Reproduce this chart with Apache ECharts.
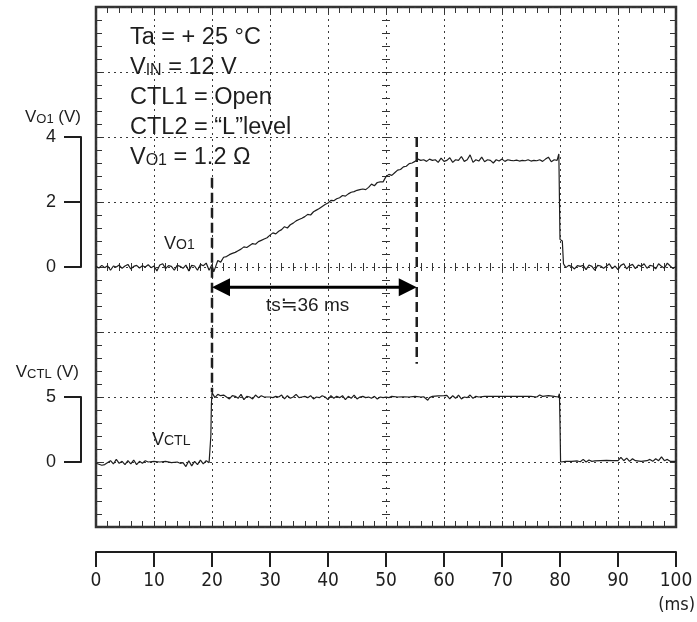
<!DOCTYPE html>
<html>
<head>
<meta charset="utf-8">
<script src="https://cdn.jsdelivr.net/npm/echarts@6/dist/echarts.min.js"></script>
<style>
html,body{margin:0;padding:0;background:#fff;}
#c{width:697px;height:622px;}
</style>
</head>
<body>
<div id="c"></div>
<script>
// ---- data (time in ms, voltages in V) ----
const timeTicks = [0, 10, 20, 30, 40, 50, 60, 70, 80, 90, 100];
const vo1BracketTicks = [0, 2, 4];
const vctlBracketTicks = [0, 5];

const vo1Trace = [
[0,0.02],[0.5,-0.03],[1,0.05],[1.5,-0.02],[2,0.04],[2.5,-0.1],[3,0.03],[3.5,0],[4,0.06],[4.5,-0.04],
[5,0.03],[5.5,0.08],[6,-0.06],[6.5,0.02],[7,0.05],[7.5,-0.03],[8,0.04],[8.5,0],[9,0.07],[9.5,-0.02],
[10,0.03],[10.5,-0.12],[11,0.06],[11.5,0.1],[12,-0.05],[12.5,0.04],[13,0.02],[13.5,-0.1],[14,0.05],[14.5,0.02],
[15,-0.04],[15.5,0.06],[16,-0.12],[16.5,0.05],[17,0.03],[17.5,-0.1],[18,0.08],[18.5,0.04],[19,0.12],[19.5,-0.1],
[20,0.08],[20.3,-0.15],[20.7,0.05],[21,0.2],[21.5,0.15],[22,0.3],[22.5,0.32],[23,0.38],[23.5,0.42],[24,0.45],
[24.5,0.5],[25,0.55],[25.5,0.62],[26,0.6],[26.5,0.66],[27,0.72],[27.5,0.7],[28,0.78],[28.5,0.82],[29,0.86],
[29.5,0.9],[30,0.98],[30.5,1.05],[31,1.02],[31.5,1.1],[32,1.15],[32.5,1.24],[33,1.2],[33.5,1.3],[34,1.35],
[34.5,1.42],[35,1.46],[35.5,1.5],[36,1.55],[36.5,1.62],[37,1.6],[37.5,1.7],[38,1.75],[38.5,1.8],[39,1.86],
[39.5,1.92],[40,1.97],[40.5,2.05],[41,2.04],[41.5,2.1],[42,2.13],[42.5,2.2],[43,2.18],[43.5,2.25],[44,2.3],
[44.5,2.32],[45,2.36],[45.5,2.38],[46,2.4],[46.5,2.38],[47,2.45],[47.5,2.55],[48,2.5],[48.5,2.6],[49,2.62],
[49.5,2.62],[50,2.78],[50.5,2.85],[51,2.82],[51.5,2.9],[52,2.98],[52.5,3.0],[53,3.08],[53.5,3.1],[54,3.18],
[54.5,3.2],[55,3.25],[55.5,3.32],[56,3.28],[56.5,3.3],[57,3.25],[57.5,3.32],[58,3.28],[58.5,3.3],[59,3.22],
[59.5,3.35],[60,3.25],[60.5,3.28],[61,3.36],[61.5,3.22],[62,3.3],[62.5,3.28],[63,3.4],[63.5,3.25],[64,3.3],
[64.5,3.45],[65,3.22],[65.5,3.3],[66,3.26],[66.5,3.38],[67,3.24],[67.5,3.3],[68,3.28],[68.5,3.2],[69,3.3],
[69.5,3.26],[70,3.32],[70.5,3.25],[71,3.3],[71.5,3.28],[72,3.27],[72.5,3.29],[73,3.26],[73.5,3.28],[74,3.27],
[74.5,3.3],[75,3.26],[75.5,3.28],[76,3.27],[76.5,3.3],[77,3.25],[77.5,3.32],[78,3.38],[78.5,3.24],[79,3.3],
[79.5,3.28],[79.8,3.48],[80,0.85],[80.4,0.8],[80.6,0.1],[81,-0.02],[81.5,0.05],[82,0.02],[82.5,-0.06],[83,0.04],
[83.5,0.02],[84,0.05],[84.5,-0.08],[85,0.06],[85.5,0.02],[86,-0.1],[86.5,0.05],[87,0.03],[87.5,-0.04],[88,0.02],
[88.5,0.1],[89,-0.05],[89.5,0.03],[90,-0.08],[90.5,0.05],[91,0.1],[91.5,-0.06],[92,0.04],[92.5,0.08],[93,-0.05],
[93.5,0.06],[94,0.02],[94.5,0.1],[95,-0.04],[95.5,0.05],[96,0.03],[96.5,-0.06],[97,0.1],[97.5,0.02],[98,-0.04],
[98.5,0.12],[99,0.03],[99.5,-0.05],[100,0.02]
];

const vctlTrace = [
[0,-0.1],[1,-0.25],[1.5,-0.2],[2.5,0.1],[3,-0.15],[3.5,0.2],[4,-0.1],[4.5,0.05],[5,-0.2],[5.5,0.1],
[6,-0.15],[6.5,0.15],[7,-0.2],[7.5,0.05],[8,-0.1],[8.5,0.1],[9,0],[10,0.05],[11,0],[12,0.05],
[13,-0.05],[14,0],[14.5,-0.1],[15,-0.05],[15.5,-0.35],[16,0.1],[16.5,-0.3],[17,0.05],[17.5,-0.2],[18,0.15],
[18.5,-0.15],[19,0.1],[19.5,-0.05],[19.7,0.05],[19.8,2.0],[19.9,4.5],[20,5.35],[20.5,4.95],[21,5.2],[21.5,5.1],
[22,5.15],[22.5,5.0],[23,4.85],[23.5,5.1],[24,5.05],[24.5,4.9],[25,5.2],[25.5,4.8],[26,5.05],[26.5,5.0],
[27,4.85],[27.5,5.15],[28,4.95],[28.5,5.1],[29,5.0],[30,5.0],[30.5,4.95],[31,5.05],[31.5,5.0],[32,5.15],
[32.5,4.85],[33,5.1],[33.5,4.9],[34,5.0],[34.5,5.2],[35,4.95],[35.5,5.0],[36,5.05],[36.5,4.95],[37,5.1],
[37.5,4.85],[38,5.0],[38.5,4.95],[39,5.1],[39.5,5.0],[40,4.8],[40.5,5.1],[41,4.9],[41.5,5.05],[42,4.95],
[42.5,5.1],[43,4.8],[43.5,5.05],[44,4.9],[44.5,5.15],[45,4.85],[45.5,5.0],[46,5.05],[46.5,4.95],[47,5.0],
[47.5,4.9],[48,5.05],[48.5,4.85],[49,5.0],[49.5,4.95],[50,5.0],[50.5,4.95],[51,5.05],[52,5.0],[53,5.02],
[54,5.0],[55,5.05],[56,5.0],[56.5,5.02],[57.2,4.75],[57.5,4.95],[58,5.05],[59,5.08],[60,5.1],[60.5,5.12],
[61,4.85],[61.5,5.1],[62,4.9],[62.5,5.15],[63,4.85],[63.5,5.0],[64,4.95],[64.5,5.15],[65,4.9],[65.5,5.05],
[66,5.0],[67,5.05],[68,5.05],[69,5.05],[70,5.05],[71,5.05],[72,5.05],[73,5.05],[74,5.05],[75,5.05],
[76,5.0],[76.5,5.15],[77,5.05],[78,5.1],[79,5.05],[79.7,5.0],[79.9,5.25],[80,3.0],[80.05,2.9],[80.1,0.0],
[81,0.05],[82,0.05],[83,0.08],[83.5,0.02],[84,0.2],[84.5,0.0],[85,0.15],[85.5,0.05],[86,0.08],[87,0.1],
[88,0.12],[89,0.1],[90,0.1],[90.5,0.35],[91,0.1],[91.5,0.3],[92,0.05],[92.5,0.25],[93,0.1],[94,0.05],
[95,0.1],[95.5,0.2],[96,0.05],[96.5,0.25],[97,0.1],[97.5,0.4],[98,0.1],[98.5,0.2],[99,0.05],[100,0.05]
];

// cursor (dashed) lines: time, top and bottom in Vo1 volts
const cursorTimes = [20, 55.3];
const cursorTopV = [2.75, 4.0];
const cursorBottomV = [-3.85, -2.98];
// ts arrow: from, to (ms), level in Vo1 volts
const arrowSpan = [20, 55.3];
const arrowLevel = -0.62;

const conditionLines = [
  '{t|Ta = + 25 °C}',
  '{t|V}{ts|IN}{t| = 12 V}',
  '{t|CTL1 = Open}',
  '{t|CTL2 = “L”level}',
  '{t|V}{ts|O1}{t| = 1.2 Ω}'
];

// ---- chart ----
const FONT = '"Liberation Sans", Arial, Helvetica, sans-serif';
const NARROW = '"Liberation Sans Narrow", "DejaVu Sans Condensed", "Liberation Sans", Arial, sans-serif';
const INK = '#1e1e1e';
const FRAME = '#333';
const dotted = {type: [2, 4], color: '#3a3a3a', width: 1};

const chart = echarts.init(document.getElementById('c'), null, {renderer: 'canvas'});

function frameX(extra) {
  return Object.assign({
    type: 'value', gridIndex: 0, min: 0, max: 100, interval: 10,
    axisLine: {show: false, onZero: false},
    axisTick: {show: true, inside: true, length: 6, lineStyle: {color: FRAME, width: 1}},
    minorTick: {show: true, splitNumber: 5, length: 6, lineStyle: {color: FRAME, width: 1}},
    axisLabel: {show: false},
    splitLine: {show: false}
  }, extra);
}
function frameY(extra) {
  return Object.assign({
    type: 'value', gridIndex: 0, min: -8, max: 8, interval: 2,
    axisLine: {show: false, onZero: false},
    axisTick: {show: true, inside: true, length: 6, lineStyle: {color: FRAME, width: 1}},
    minorTick: {show: true, splitNumber: 5, length: 6, lineStyle: {color: FRAME, width: 1}},
    axisLabel: {show: false},
    splitLine: {show: false}
  }, extra);
}
const crossTick = (inside) => ({
  axisTick: {show: true, inside: inside, length: 4, lineStyle: {color: FRAME}},
  minorTick: {show: true, splitNumber: 5, length: 4, lineStyle: {color: FRAME}}
});

const richSmall = {
  v: {fontSize: 17, fontFamily: FONT, color: INK},
  s: {fontSize: 13, fontFamily: FONT, color: INK, padding: [3, 0, 0, 0]},
  n: {fontSize: 17, fontFamily: FONT, color: INK}
};

const option = {
  animation: false,
  backgroundColor: '#fff',
  grid: [
    {left: 96, top: 7, width: 580, height: 520, show: true, borderColor: FRAME, borderWidth: 2.5,
     backgroundColor: 'transparent', containLabel: false, outerBoundsMode: 'none'},
    {left: 81, top: 137, width: 1, height: 130, containLabel: false, outerBoundsMode: 'none'},
    {left: 81, top: 397, width: 1, height: 65, containLabel: false, outerBoundsMode: 'none'}
  ],
  xAxis: [
    frameX({position: 'bottom', splitLine: {show: true, lineStyle: dotted}}),
    frameX({position: 'top'}),
    frameX(Object.assign({position: 'bottom', offset: -260}, crossTick(true))),
    frameX(Object.assign({position: 'bottom', offset: -260}, crossTick(false))),
    {
      type: 'value', gridIndex: 0, min: 0, max: 100, interval: 10, position: 'bottom', offset: 25,
      axisLine: {show: true, onZero: false, lineStyle: {color: INK, width: 2}},
      axisTick: {show: true, inside: false, length: 15, lineStyle: {color: INK, width: 2}},
      minorTick: {show: false},
      axisLabel: {show: true, margin: 20, fontSize: 19, fontFamily: NARROW, color: INK,
        formatter: v => timeTicks.includes(v) ? String(v) : ''},
      splitLine: {show: false}
    },
    {type: 'value', gridIndex: 1, min: 0, max: 1, show: false},
    {type: 'value', gridIndex: 2, min: 0, max: 1, show: false}
  ],
  yAxis: [
    frameY({position: 'left', splitLine: {show: true, lineStyle: dotted}}),
    frameY({position: 'right'}),
    frameY(Object.assign({position: 'left', offset: -290}, crossTick(true))),
    frameY(Object.assign({position: 'left', offset: -290}, crossTick(false))),
    {type: 'value', gridIndex: 0, min: -5, max: 35, interval: 5, show: false, axisLine: {onZero: false}},
    {
      type: 'value', gridIndex: 1, min: Math.min(...vo1BracketTicks), max: Math.max(...vo1BracketTicks), interval: 2, position: 'left',
      axisLine: {show: true, onZero: false, lineStyle: {color: INK, width: 2}},
      axisTick: {show: true, inside: false, length: 17, lineStyle: {color: INK, width: 2}},
      axisLabel: {show: true, margin: 25, fontSize: 18, fontFamily: FONT, color: INK},
      splitLine: {show: false},
      name: '{v|V}{s|O1}{n| (V)}', nameLocation: 'end', nameGap: 11,
      nameTextStyle: {align: 'right', rich: richSmall}
    },
    {
      type: 'value', gridIndex: 2, min: Math.min(...vctlBracketTicks), max: Math.max(...vctlBracketTicks), interval: 5, position: 'left',
      axisLine: {show: true, onZero: false, lineStyle: {color: INK, width: 2}},
      axisTick: {show: true, inside: false, length: 17, lineStyle: {color: INK, width: 2}},
      axisLabel: {show: true, margin: 25, fontSize: 18, fontFamily: FONT, color: INK},
      splitLine: {show: false},
      name: '{v|V}{s|CTL}{n| (V)}', nameLocation: 'end', nameGap: 16,
      nameTextStyle: {align: 'right', padding: [0, 2, 0, 0], rich: richSmall}
    }
  ],
  series: [
    {
      name: 'Vo1', type: 'line', xAxisIndex: 0, yAxisIndex: 0, data: vo1Trace,
      showSymbol: false, symbol: 'none', lineStyle: {color: INK, width: 1.2}, z: 5
    },
    {
      name: 'VCTL', type: 'line', xAxisIndex: 0, yAxisIndex: 4, data: vctlTrace,
      showSymbol: false, symbol: 'none', lineStyle: {color: INK, width: 1.2}, z: 5
    },
    {
      name: 'cursors', type: 'custom', xAxisIndex: 0, yAxisIndex: 0,
      data: cursorTimes.map((t, i) => [t, cursorTopV[i], cursorBottomV[i]]),
      encode: {x: 0, y: [1, 2]},
      renderItem: (params, api) => {
        const a = api.coord([api.value(0), api.value(1)]);
        const b = api.coord([api.value(0), api.value(2)]);
        return {type: 'line', shape: {x1: a[0], y1: a[1], x2: b[0], y2: b[1]},
          style: {stroke: INK, lineWidth: 2.5, lineDash: [10, 5], fill: null}};
      },
      z: 6
    },
    {
      name: 'ts', type: 'custom', xAxisIndex: 0, yAxisIndex: 0,
      data: [[arrowSpan[0], arrowSpan[1], arrowLevel]],
      encode: {x: [0, 1], y: 2},
      renderItem: (params, api) => {
        const a = api.coord([api.value(0), api.value(2)]);
        const b = api.coord([api.value(1), api.value(2)]);
        const L = 18, H = 9;
        return {type: 'group', children: [
          {type: 'line', shape: {x1: a[0] + L - 2, y1: a[1], x2: b[0] - L + 2, y2: b[1]}, style: {stroke: '#000', lineWidth: 3}},
          {type: 'polygon', shape: {points: [[a[0], a[1]], [a[0] + L, a[1] - H], [a[0] + L, a[1] + H]]}, style: {fill: '#000'}},
          {type: 'polygon', shape: {points: [[b[0], b[1]], [b[0] - L, b[1] - H], [b[0] - L, b[1] + H]]}, style: {fill: '#000'}}
        ]};
      },
      z: 7
    }
  ],
  graphic: [
    ...conditionLines.map((txt, i) => ({
      type: 'text', left: 130, top: 26 + i * 30, z: 10,
      style: {text: txt, fill: INK,
        rich: {t: {fontSize: 23.5, fontFamily: FONT, fill: INK}, ts: {fontSize: 16, fontFamily: FONT, fill: INK, padding: [5, 0, 0, 0]}}}
    })),
    {type: 'text', left: 164, top: 235, z: 10,
     style: {text: '{v|V}{s|O1}', rich: {v: {fontSize: 18, fontFamily: FONT, fill: INK}, s: {fontSize: 14, fontFamily: FONT, fill: INK, padding: [3, 0, 0, 0]}}}},
    {type: 'text', left: 152, top: 431, z: 10,
     style: {text: '{v|V}{s|CTL}', rich: {v: {fontSize: 18, fontFamily: FONT, fill: INK}, s: {fontSize: 14, fontFamily: FONT, fill: INK, padding: [3, 0, 0, 0]}}}},
    {type: 'text', left: 266, top: 296, z: 10,
     style: {text: '{a|ts}{b|≒}{a|36 ms}', rich: {a: {fontSize: 19, fontFamily: FONT, fill: INK}, b: {fontSize: 20, fontFamily: '"DejaVu Sans", "Noto Sans CJK JP", sans-serif', fill: INK}}}},
    {type: 'text', right: 2, top: 596, z: 10,
     style: {text: '(ms)', fontSize: 18, fontFamily: NARROW, fill: INK}}
  ]
};
chart.setOption(option);
</script>
</body>
</html>
